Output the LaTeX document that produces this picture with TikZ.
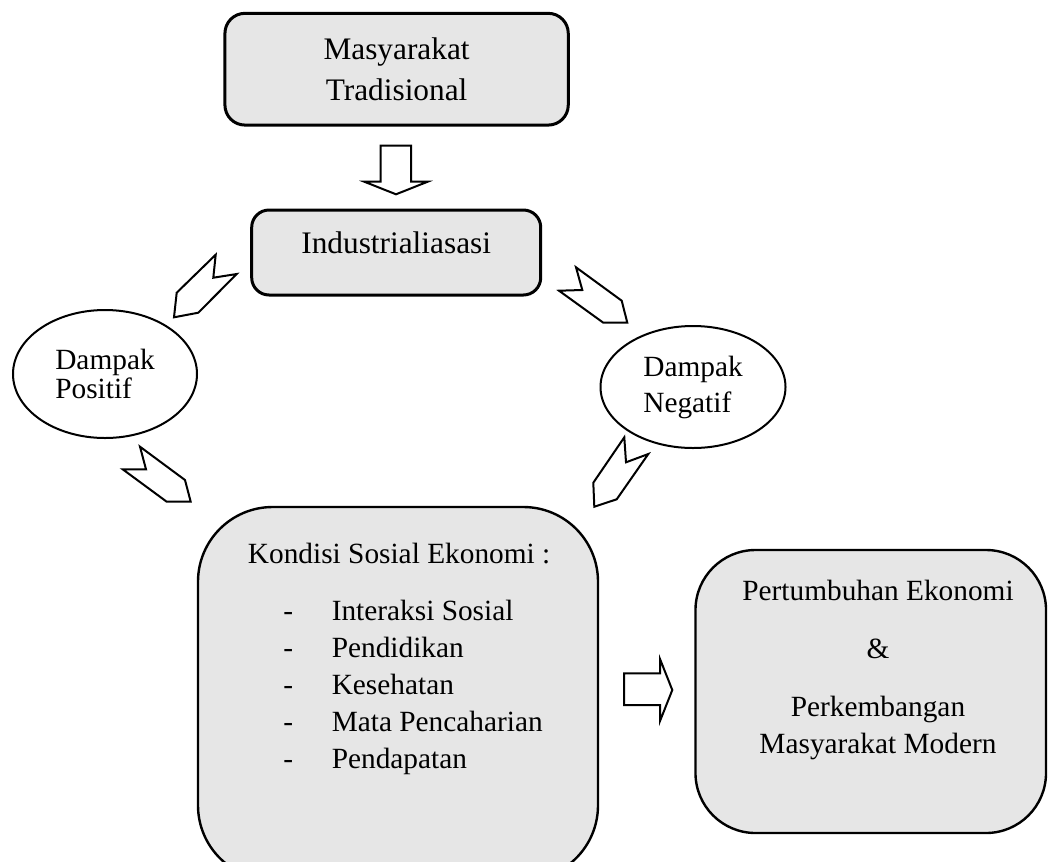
\documentclass[tikz,border=0pt]{standalone}
\usepackage{fontspec}
\setmainfont{Liberation Serif}
\usetikzlibrary{positioning,shapes.geometric}
\definecolor{boxgray}{HTML}{E6E6E6}
\tikzset{ %line join=miter,
  >=latex,
  box/.style ={rectangle,rounded corners=15pt,draw=black,line width=2.25pt,
  fill=boxgray,align=center,font=\fontsize{23.5}{30.75}\selectfont},
  {bigbox/.style} ={rectangle,draw=black,line width=1.8pt,fill=boxgray},
  {oval/.style} ={ellipse,draw=black,line width=1.5pt,fill=white,align=left},
  {blockarrow/.style} ={draw=black,line width=1.5pt,line join=miter,fill=white},
  {txt/.style} ={font=\fontsize{22}{27.75}\selectfont,inner sep=0pt},
 }

\begin{document}
\begin{tikzpicture}[x=0.75pt,y=-0.75pt]
        \useasboundingbox (0,0) rectangle (1049,861);
        \node[box,minimum width=257.5pt,minimum height=83.8pt] (trad)
                at (396.6,69.2) {Masyarakat\\Tradisional};
        \node[box,rounded corners=13pt,minimum width=216.75pt,
                minimum height=63.75pt,text depth=15pt] (ind)
                at (396.2,252.5) {Industrialiasasi};
        \node[oval,minimum width=138pt,minimum height=96pt,
                font=\fontsize{22}{21.2}\selectfont] (pos)
                at (105,374) {Dampak\\Positif};
        \node[oval,minimum width=138.75pt,minimum height=91.5pt,
                font=\fontsize{22}{27}\selectfont] (neg)
                at (693,387) {Dampak\\Negatif};
        \node[bigbox,rounded corners=56pt,minimum width=300pt,
                minimum height=279.75pt] (kondisi) at (398,693.5) {};
        \node[bigbox,rounded corners=45pt,minimum width=262.9pt,
                minimum height=212.25pt] (tumbuh) at (870.75,691.5) {};
        % texts of the two lower boxes (base = last line)
        \node[txt,anchor=base west] (khead) at (247.7,563.3)
                {Kondisi Sosial Ekonomi :};
        \node[txt,anchor=base west,align=left] (klist) at (283,768.3)
                {\makebox[36.4pt][l]{-}Interaksi Sosial\\
                 \makebox[36.4pt][l]{-}Pendidikan\\
                 \makebox[36.4pt][l]{-}Kesehatan\\
                 \makebox[36.4pt][l]{-}Mata Pencaharian\\
                 \makebox[36.4pt][l]{-}Pendapatan};
        \node[txt,anchor=base,align=center] (ttext) at (878,753)
                {Pertumbuhan Ekonomi\\[15.75pt]\&\\[15.75pt]
                 Perkembangan\\Masyarakat Modern};
        % block arrows
        \draw[blockarrow] (380.7,145.7) -- (411,145.7) -- (411,181.7)
                -- (427.7,181.7) -- (396,194.3) -- (364.3,181.7)
                -- (380.7,181.7) -- cycle;
        \draw[blockarrow] (215.7,254.7) -- (213.3,277.7) -- (236.7,274)
                -- (198.3,312.7) -- (174,317.3) -- (176.7,292.7) -- cycle;
        \draw[blockarrow] (576,267.3) -- (582.3,290) -- (559,290.7)
                -- (603.3,322.7) -- (627.3,322.7) -- (621.7,300.7) -- cycle;
        \draw[blockarrow] (140,446.7) -- (146,469.3) -- (122.7,469.3)
                -- (166.7,501.7) -- (190.7,501.7) -- (185,480) -- cycle;
        \draw[blockarrow] (624.3,437.3) -- (626,462.3) -- (648.3,454)
                -- (616.7,499.3) -- (594.3,506.7) -- (593.3,482.7) -- cycle;
        \draw[blockarrow] (624,673.3) -- (660,673.3) -- (660,659)
                -- (672.3,690) -- (660,721) -- (660,705) -- (624,705) -- cycle;
\end{tikzpicture}
\end{document}
